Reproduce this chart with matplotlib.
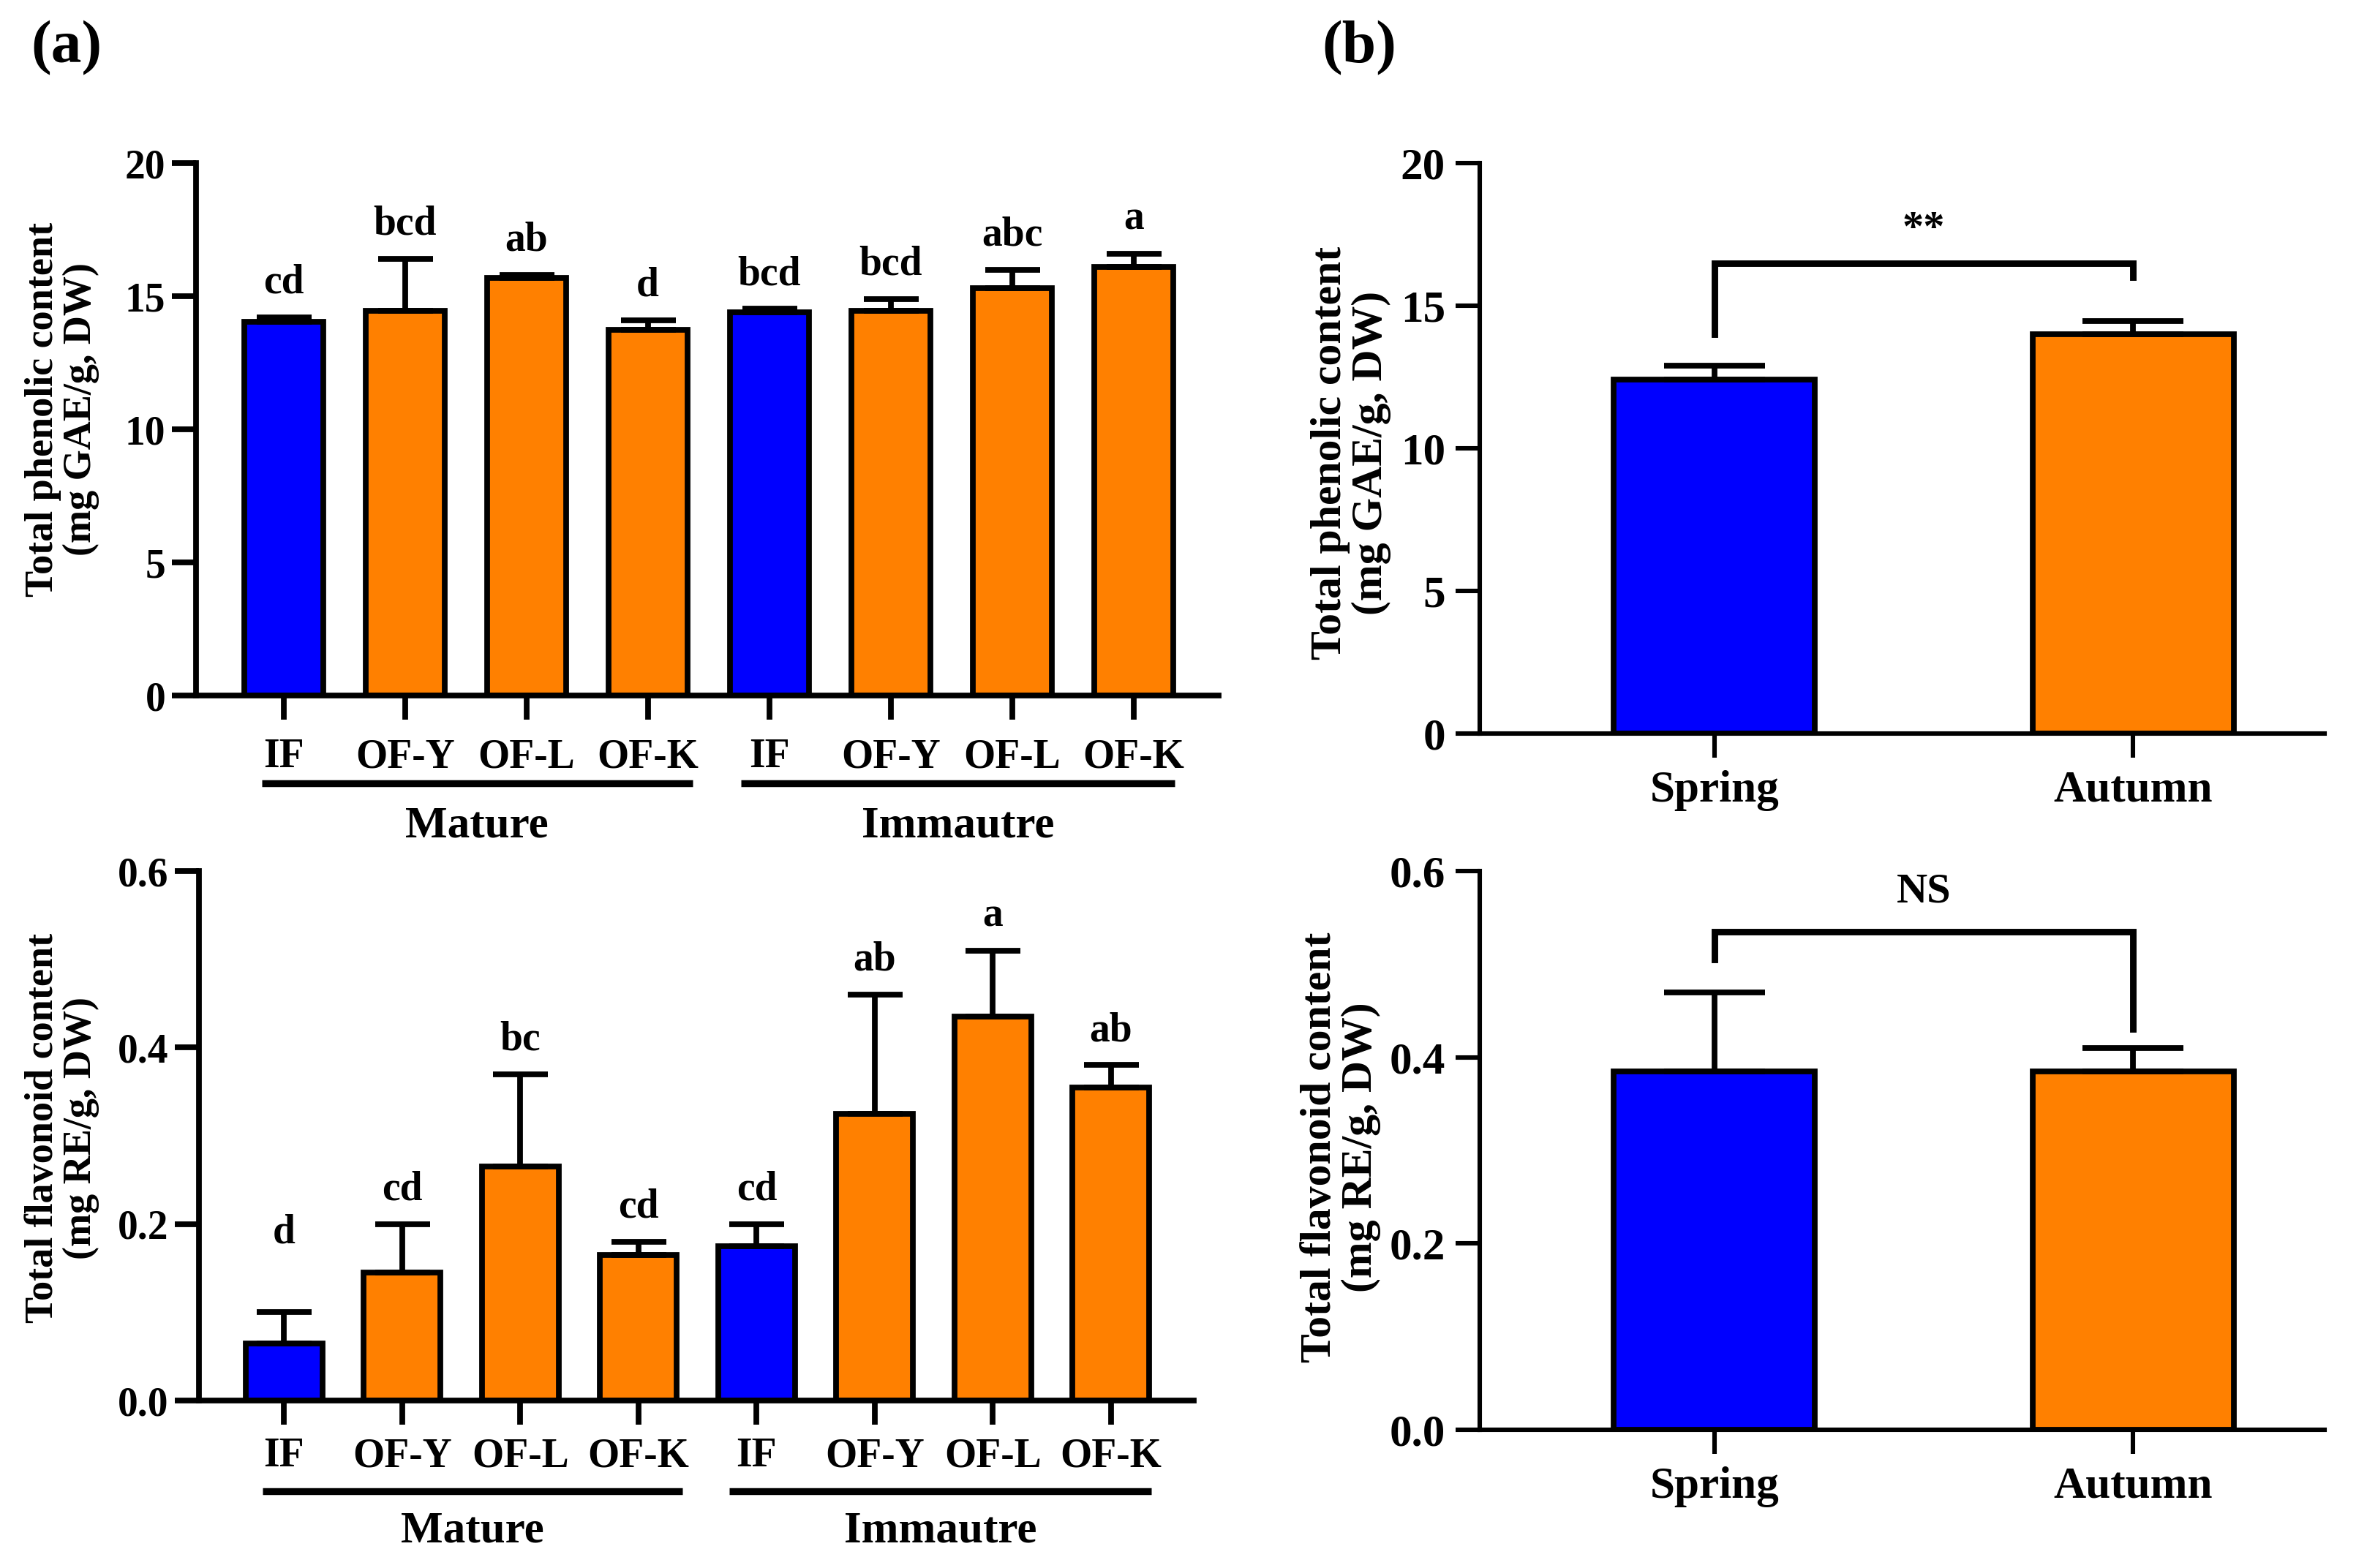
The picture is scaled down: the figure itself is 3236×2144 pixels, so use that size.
import matplotlib
matplotlib.use("Agg")
import matplotlib.pyplot as plt
from matplotlib.transforms import blended_transform_factory
import numpy as np

# ---------------- data ----------------
categories = ["IF", "OF-Y", "OF-L", "OF-K", "IF", "OF-Y", "OF-L", "OF-K"]
groups = ["Mature", "Immautre"]
phenolic_mean = [14.05, 14.45, 15.7, 13.75, 14.4, 14.45, 15.3, 16.1]
phenolic_err = [0.15, 1.95, 0.1, 0.35, 0.12, 0.45, 0.7, 0.5]
phenolic_letters = ["cd", "bcd", "ab", "d", "bcd", "bcd", "abc", "a"]
flav_mean = [0.065, 0.145, 0.265, 0.165, 0.175, 0.325, 0.435, 0.355]
flav_err = [0.035, 0.055, 0.105, 0.015, 0.025, 0.135, 0.075, 0.025]
flav_letters = ["d", "cd", "bc", "cd", "cd", "ab", "a", "ab"]

seasons = ["Spring", "Autumn"]
season_phen_mean = [12.4, 14.0]
season_phen_err = [0.5, 0.45]
season_flav_mean = [0.385, 0.385]
season_flav_err = [0.085, 0.025]
phen_bracket = [14.0, 16.5, 16.0]   # left leg end, bar height, right leg end
phen_sig = "**"
flav_bracket = [0.505, 0.535, 0.43]
flav_sig = "NS"

BLUE = "#0000FF"
ORANGE = "#FF8000"
cat_colors = [BLUE if c == "IF" else ORANGE for c in categories]
season_colors = [BLUE, ORANGE]

# ---------------- style ----------------
plt.rcParams["font.family"] = ["Liberation Serif", "DejaVu Serif"]
plt.rcParams["font.weight"] = "bold"

W, H, DPI = 3236, 2144, 200
fig = plt.figure(figsize=(W / DPI, H / DPI), dpi=DPI)


def axes_px(l, r, t, b):
    return fig.add_axes([l / W, 1 - b / H, (r - l) / W, (b - t) / H])


def style_axes(ax, lw, fs, xpad, ypad):
    for s in ["top", "right"]:
        ax.spines[s].set_visible(False)
    for s in ["left", "bottom"]:
        ax.spines[s].set_linewidth(lw)
    ax.tick_params(axis="both", direction="out", length=12, width=lw,
                   labelsize=fs, color="black")
    ax.tick_params(axis="x", pad=xpad)
    ax.tick_params(axis="y", pad=ypad)
    for lab in ax.get_xticklabels() + ax.get_yticklabels():
        lab.set_fontweight("bold")


def panel_a(ax, mean, err, letters, ylim, yticks, yfmt, lift_first, group_y, label_y, xpad):
    x = np.arange(len(categories))
    ax.bar(x, mean, width=0.65, color=cat_colors, edgecolor="black",
           linewidth=2.8, zorder=2)
    ax.errorbar(x, mean, yerr=[np.zeros(len(x)), err], fmt="none",
                ecolor="black", elinewidth=2.8, capsize=13.5, capthick=2.8, zorder=3)
    ax.set_xlim(-0.72, 7.7)
    ax.set_ylim(*ylim)
    ax.set_yticks(yticks)
    ax.set_yticklabels([yfmt.format(v) for v in yticks])
    ax.set_xticks(x)
    ax.set_xticklabels(categories)
    style_axes(ax, 2.8, 20, xpad, 3)
    for i, (m, e, t) in enumerate(zip(mean, err, letters)):
        off = 12 + (lift_first if i == 0 else 0)
        ax.annotate(t, (i, m + e), xytext=(0, off), textcoords="offset points",
                    ha="center", va="baseline", fontsize=20, fontweight="bold")
    tr = blended_transform_factory(ax.transData, ax.transAxes)
    spans = [(-0.18, 3.37), (3.77, 7.34)]
    for (x0, x1), g in zip(spans, groups):
        ax.plot([x0, x1], [group_y, group_y], color="black", lw=3.4,
                transform=tr, clip_on=False, solid_capstyle="butt")
        ax.text((x0 + x1) / 2, label_y, g, transform=tr, ha="center",
                va="center", fontsize=22, fontweight="bold")


def panel_b(ax, mean, err, ylim, yticks, yfmt, bracket, sig, sig_y):
    x = np.arange(len(seasons))
    ax.bar(x, mean, width=0.48, color=season_colors, edgecolor="black",
           linewidth=2.8, zorder=2)
    ax.errorbar(x, mean, yerr=[np.zeros(len(x)), err], fmt="none",
                ecolor="black", elinewidth=2.8, capsize=25, capthick=2.8, zorder=3)
    ax.set_xlim(-0.56, 1.457)
    ax.set_ylim(*ylim)
    ax.set_yticks(yticks)
    ax.set_yticklabels([yfmt.format(v) for v in yticks])
    ax.set_xticks(x)
    ax.set_xticklabels(seasons)
    style_axes(ax, 2.2, 22, 6, 5)
    ax.plot([0, 0, 1, 1], [bracket[0], bracket[1], bracket[1], bracket[2]],
            color="black", lw=3.2, solid_joinstyle="miter", clip_on=False)
    ax.text(0.5, sig_y, sig, ha="center", va="baseline", fontsize=21,
            fontweight="bold")


ax1 = axes_px(268, 1666, 223, 951)
panel_a(ax1, phenolic_mean, phenolic_err, phenolic_letters, (0, 20),
        [0, 5, 10, 15, 20], "{:g}", 0, -0.165, -0.245, 9)

ax2 = axes_px(272, 1632, 1191, 1915)
panel_a(ax2, flav_mean, flav_err, flav_letters, (0, 0.6),
        [0.0, 0.2, 0.4, 0.6], "{:.1f}", 22, -0.171, -0.247, 6)

ax3 = axes_px(2023, 3178, 223, 1003)
panel_b(ax3, season_phen_mean, season_phen_err, (0, 20), [0, 5, 10, 15, 20],
        "{:g}", phen_bracket, phen_sig, 17.3)

ax4 = axes_px(2023, 3178, 1191, 1955)
panel_b(ax4, season_flav_mean, season_flav_err, (0, 0.6), [0.0, 0.2, 0.4, 0.6],
        "{:.1f}", flav_bracket, flav_sig, 0.567)

# y labels
def ylab(xc, yc, text, fs):
    fig.text(xc / W, 1 - yc / H, text, rotation=90, ha="center", va="center",
             fontsize=fs, fontweight="bold", linespacing=1.05)

ylab(85, 560, "Total phenolic content\n(mg GAE/g, DW)", 19.5)
ylab(85, 1542, "Total flavonoid content\n(mg RE/g, DW)", 19.5)
ylab(1847, 619, "Total phenolic content\n(mg GAE/g, DW)", 21.5)
ylab(1833, 1569, "Total flavonoid content\n(mg RE/g, DW)", 21.5)

fig.text(91 / W, 1 - 66 / H, "(a)", ha="center", va="center", fontsize=30,
         fontweight="bold")
fig.text(1858 / W, 1 - 66 / H, "(b)", ha="center", va="center", fontsize=30,
         fontweight="bold")

fig.savefig("out.png", dpi=DPI)
